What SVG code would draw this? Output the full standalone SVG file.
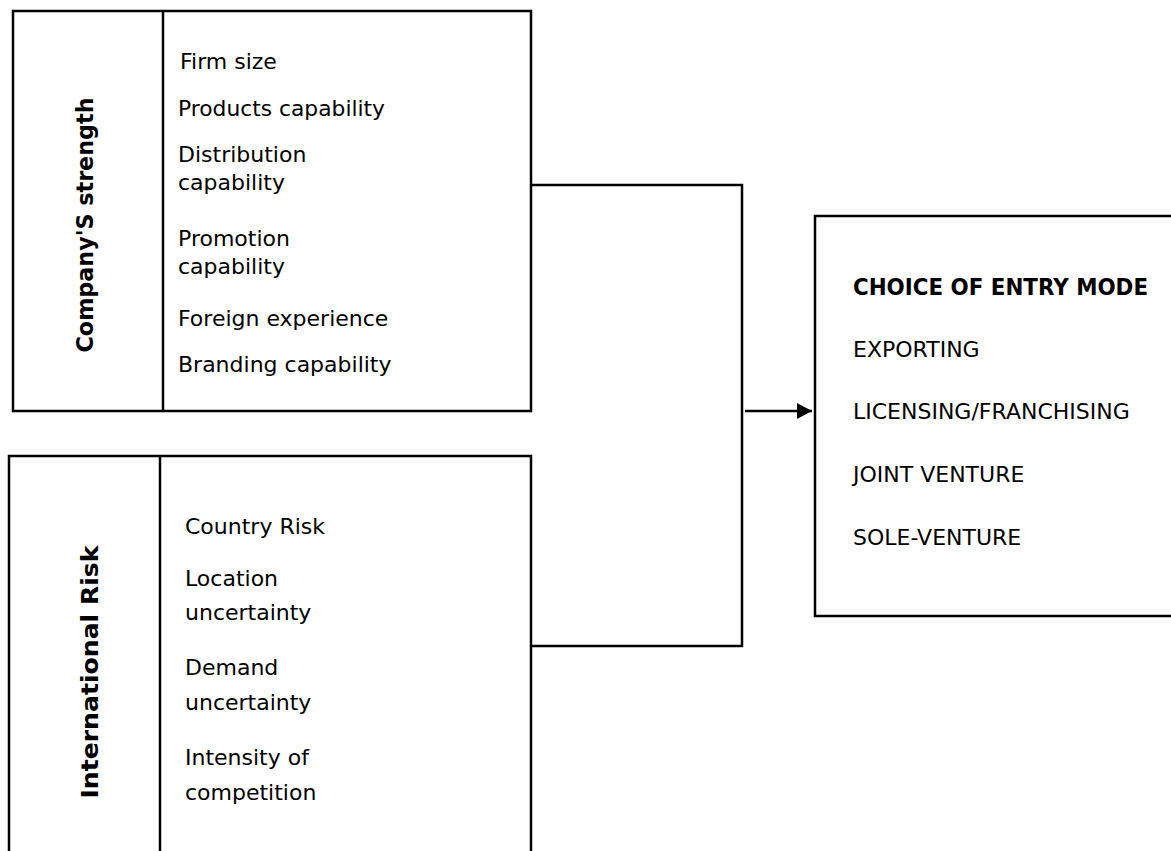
<svg xmlns="http://www.w3.org/2000/svg" width="1171" height="851" viewBox="0 0 1171 851">
<style>
.box{fill:none;stroke:#000;stroke-width:2.5}
.t{font-family:"DejaVu Sans",Verdana,sans-serif;font-size:22px;fill:#000}
.b{font-family:"DejaVu Sans",Verdana,sans-serif;font-size:23px;font-weight:bold;fill:#000}
.c{fill:none;stroke:#000;stroke-width:2.5}
</style>
<defs>
<marker id="ah" markerWidth="16" markerHeight="16" refX="15" refY="8" orient="auto" markerUnits="userSpaceOnUse">
<path d="M0,0 L15,8 L0,16 z" fill="#000"/>
</marker>
</defs>
<rect width="1171" height="851" fill="#fff"/>
<g id="connectors">
<polyline class="c" points="531,185 742,185 742,646 531,646"/>
<line class="c" x1="745" y1="411" x2="812" y2="411" marker-end="url(#ah)"/>
</g>
<g id="company-strength">
<rect class="box" x="13" y="11" width="518" height="400"/>
<line class="box" x1="163" y1="11" x2="163" y2="411"/>
<text class="b" transform="translate(93,225) rotate(-90)" text-anchor="middle" textLength="255" lengthAdjust="spacingAndGlyphs">Company'S strength</text>
<text class="t" x="180" y="69">Firm size</text>
<text class="t" x="178" y="116" textLength="207" lengthAdjust="spacingAndGlyphs">Products capability</text>
<text class="t" x="178" y="162">Distribution</text>
<text class="t" x="178" y="190">capability</text>
<text class="t" x="178" y="246">Promotion</text>
<text class="t" x="178" y="274">capability</text>
<text class="t" x="178" y="326">Foreign experience</text>
<text class="t" x="178" y="372">Branding capability</text>
</g>
<g id="international-risk">
<path class="box" d="M9,852 L9,456 L531,456 L531,852"/>
<line class="box" x1="160" y1="456" x2="160" y2="852"/>
<text class="b" transform="translate(98,672) rotate(-90)" text-anchor="middle" textLength="253" lengthAdjust="spacingAndGlyphs">International  Risk</text>
<text class="t" x="185" y="534">Country Risk</text>
<text class="t" x="185" y="586">Location</text>
<text class="t" x="185" y="620">uncertainty</text>
<text class="t" x="185" y="675">Demand</text>
<text class="t" x="185" y="710">uncertainty</text>
<text class="t" x="185" y="765">Intensity of</text>
<text class="t" x="185" y="800">competition</text>
</g>
<g id="entry-mode">
<path class="box" d="M1172,216 L815,216 L815,616 L1172,616"/>
<text class="b" x="853" y="295" textLength="295" lengthAdjust="spacingAndGlyphs">CHOICE OF ENTRY MODE</text>
<text class="t" x="853" y="357">EXPORTING</text>
<text class="t" x="853" y="419">LICENSING/FRANCHISING</text>
<text class="t" x="853" y="482">JOINT VENTURE</text>
<text class="t" x="853" y="545">SOLE-VENTURE</text>
</g>
</svg>
